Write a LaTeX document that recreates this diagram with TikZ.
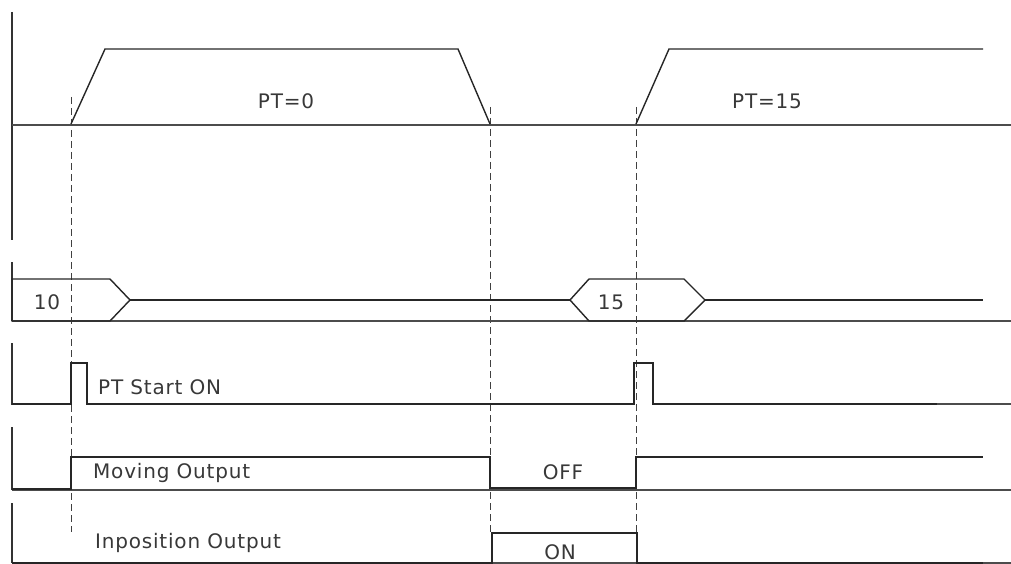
\documentclass[tikz,border=0pt]{standalone}
\usepackage{fontspec}
\setmainfont{DejaVu Sans}
\newfontfamily\lblfont[LetterSpace=4]{DejaVu Sans}
\begin{document}
\begin{tikzpicture}[x=1pt,y=-1pt,
  sig/.style={line width=1.4pt,draw=black!85,line join=miter},
  axis/.style={line width=1.4pt,draw=black!80},
  base/.style={line width=1.3pt,draw=black!70},
  guide/.style={line width=0.9pt,draw=black!75,dash pattern=on 7pt off 4pt},
  lbl/.style={font=\lblfont\fontsize{20}{24}\selectfont,text=black!78,inner sep=0pt}]
\useasboundingbox (0,0) rectangle (1011,564);
% guide coordinates
\coordinate (g1t) at (71,97);  \coordinate (g1b) at (71,532);
\coordinate (g2t) at (490,107); \coordinate (g2b) at (490,533);
\coordinate (g3t) at (636,107); \coordinate (g3b) at (636,533);
\draw[guide] (g1t) -- (g1b);
\draw[guide] (g2t) -- (g2b);
\draw[guide] (g3t) -- (g3b);
% row 1: speed profile
\draw[axis] (12,12) -- (12,240);
\draw[base] (12,125) -- (1011,125);
\draw[sig] (71,124) -- (105,49) -- (458,49) -- (490,124);
\draw[sig] (636,124) -- (669,49) -- (983,49);
\node[lbl] (pt0) at (286,101) {PT=0};
\node[lbl] (pt15) at (767,101) {PT=15};
% row 2: position bus
\draw[axis] (12,262) -- (12,321);
\draw[base] (12,321) -- (1011,321);
\draw[sig] (12,279) -- (110,279) -- (130,300) -- (110,321) -- (12,321) -- cycle;
\draw[sig] (130,300) -- (570,300);
\draw[sig] (570,300) -- (589,279) -- (684,279) -- (705,300) -- (684,321) -- (589,321) -- cycle;
\draw[sig] (705,300) -- (983,300);
\node[lbl] (b10) at (47,302) {10};
\node[lbl] (b15) at (611,302) {15};
% row 3: PT start
\draw[axis] (12,343) -- (12,405);
\draw[base] (937,404) -- (1011,404);
\draw[sig] (12,404) -- (71,404) -- (71,363) -- (87,363) -- (87,404) -- (634,404) -- (634,363) -- (653,363) -- (653,404) -- (937,404);
\node[lbl,anchor=west] (pts) at (98,387) {PT Start ON};
% row 4: moving output
\draw[axis] (12,427) -- (12,490);
\draw[base] (12,490) -- (1011,490);
\draw[sig] (12,489) -- (71,489) -- (71,457) -- (490,457) -- (490,488) -- (636,488) -- (636,457) -- (983,457);
\node[lbl,anchor=west] (mo) at (93,473) {Moving Output};
\node[lbl] (off) at (563,472) {OFF};
% row 5: inposition output
\draw[axis] (12,503) -- (12,563);
\draw[base] (12,563) -- (1011,563);
\draw[sig] (12,563) -- (492,563) -- (492,533) -- (637,533) -- (637,563) -- (983,563);
\node[lbl,anchor=west] (io) at (95,543) {Inposition Output};
\node[lbl] (on) at (560,552) {ON};
\end{tikzpicture}
\end{document}
